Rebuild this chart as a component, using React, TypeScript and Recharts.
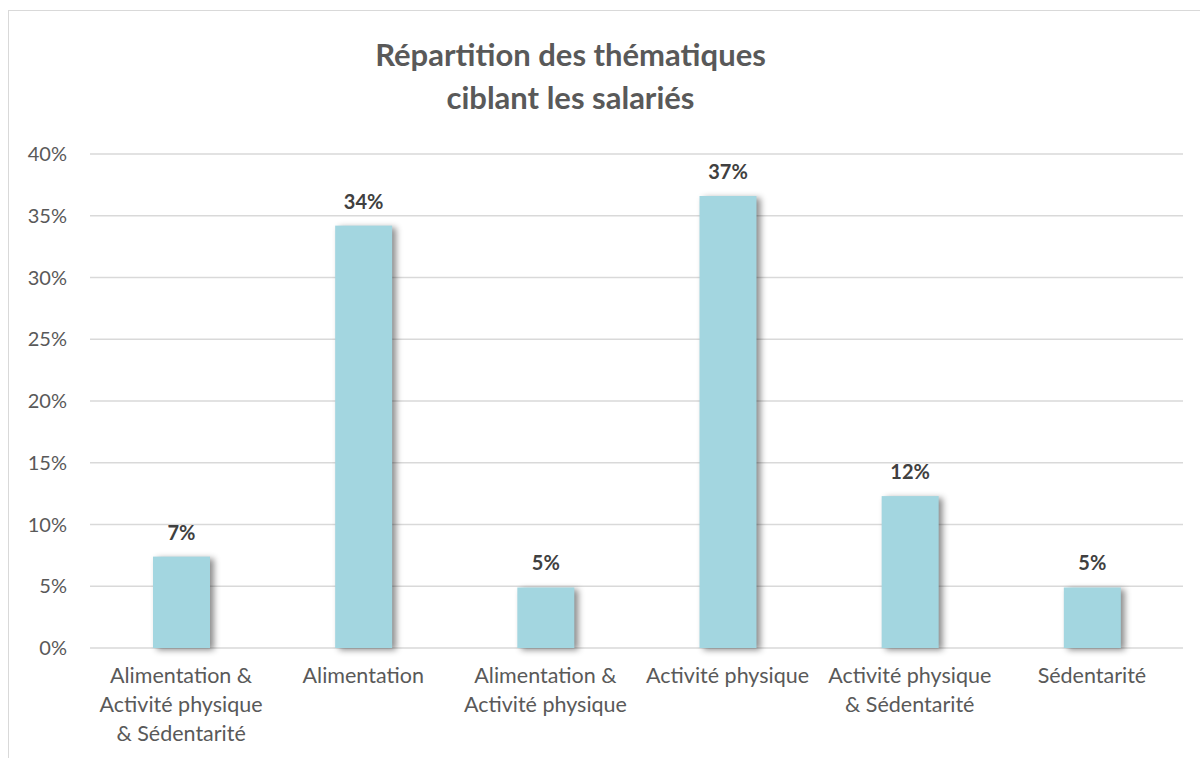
import { BarChart, Bar, XAxis, YAxis, CartesianGrid, LabelList } from "recharts";

const categoryLines = [
  ["Alimentation &", "Activité physique", "& Sédentarité"],
  ["Alimentation"],
  ["Alimentation &", "Activité physique"],
  ["Activité physique"],
  ["Activité physique", "& Sédentarité"],
  ["Sédentarité"],
];
const categories = categoryLines.map((l) => l.join(" "));
const shares = [7.4, 34.2, 4.9, 36.6, 12.3, 4.9];
const yTicks = [0, 5, 10, 15, 20, 25, 30, 35, 40];

const data = categories.map((name, i) => ({ name, value: shares[i] }));

const FONT = "Lato, 'Open Sans', sans-serif";
const GRAY = "#595959";

const YTick = ({ y, payload }: any) => (
  <text x={67} y={y} dy="0.35em" textAnchor="end" fill={GRAY} fontSize={20} fontFamily={FONT}>
    {payload.value}%
  </text>
);

const XTick = ({ x, y, index }: any) => {
  const lines = categoryLines[index] || [];
  return (
    <text x={x} y={y + 27} textAnchor="middle" fill={GRAY} fontSize={21.5} fontFamily={FONT}>
      {lines.map((l, i) => (
        <tspan key={i} x={x} dy={i === 0 ? 0 : 29}>
          {l}
        </tspan>
      ))}
    </text>
  );
};

const ShadowBar = (props: any) => {
  const { x, y, width, height } = props;
  return (
    <rect
      x={x}
      y={y}
      width={width}
      height={height}
      fill="#A3D6E0"
      style={{ filter: "drop-shadow(4px 2px 3px rgba(0,0,0,0.45))" }}
    />
  );
};

const ValueLabel = ({ x, y, width, value }: any) => (
  <text
    x={x + width / 2}
    y={y - 24}
    dy="0.35em"
    textAnchor="middle"
    fill="#404040"
    fontSize={20}
    fontWeight="bold"
    fontFamily={FONT}
  >
    {Math.round(value)}%
  </text>
);

export default function App() {
  return (
    <div style={{ position: "relative", width: 1200, height: 758, overflow: "hidden", background: "#fff" }}>
      <style>{`body{margin:0;overflow:hidden}`}</style>
      <div
        style={{
          position: "absolute",
          left: 8,
          top: 10,
          width: 1200,
          height: 800,
          border: "1px solid #D9D9D9",
          boxSizing: "border-box",
        }}
      />
      <div
        style={{
          position: "absolute",
          left: 0,
          top: 33,
          width: 1141,
          textAlign: "center",
          fontFamily: FONT,
          fontWeight: "bold",
          fontSize: 31,
          lineHeight: "43px",
          color: GRAY,
        }}
      >
        Répartition des thématiques
        <br />
        ciblant les salariés
      </div>
      <div style={{ position: "absolute", left: 0, top: 0 }}>
        <BarChart
          width={1200}
          height={758}
          data={data}
          margin={{ top: 154, right: 17, bottom: 80, left: 30 }}
        >
          <CartesianGrid vertical={false} stroke="#D9D9D9" strokeWidth={1.3} />
          <XAxis dataKey="name" axisLine={false} tickLine={false} tick={<XTick />} interval={0} />
          <YAxis
            width={60}
            domain={[0, 40]}
            ticks={yTicks}
            axisLine={false}
            tickLine={false}
            tick={<YTick />}
          />
          <Bar dataKey="value" barSize={57} shape={<ShadowBar />} isAnimationActive={false}>
            <LabelList dataKey="value" content={<ValueLabel />} />
          </Bar>
        </BarChart>
      </div>
    </div>
  );
}
